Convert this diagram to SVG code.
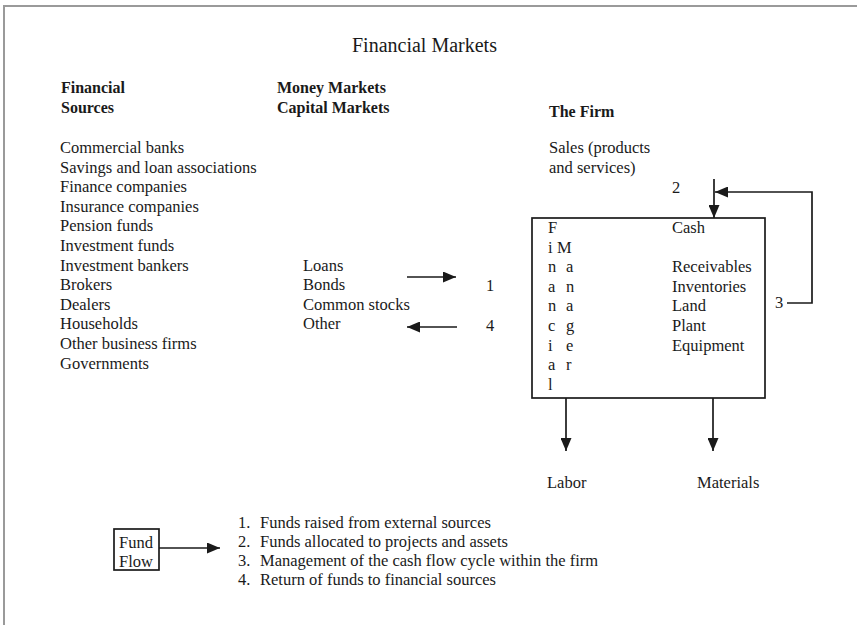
<svg xmlns="http://www.w3.org/2000/svg" width="859" height="625" viewBox="0 0 859 625">
<defs>
<style>
text{font-family:"Liberation Serif","Times New Roman",serif;font-size:16.5px;fill:#1a1a1a}
.b{font-weight:bold;font-size:16px}
.t{font-size:20px}
.ln{stroke:#1a1a1a;stroke-width:1.7;fill:none}
.frame{stroke:#9a9a9a;stroke-width:2;fill:none}
</style>
<marker id="ah" markerWidth="13" markerHeight="11" refX="13" refY="5.5" orient="auto" markerUnits="userSpaceOnUse">
<path d="M0,0 L13,5.5 L0,11 Z" fill="#1a1a1a"/>
</marker>
</defs>
<rect width="859" height="625" fill="#ffffff"/>
<path class="frame" d="M4,625 V6 H857"/>
<text class="t" x="352" y="52">Financial Markets</text>

<g id="sources">
<text class="b" x="61" y="93">Financial</text>
<text class="b" x="61" y="113">Sources</text>
<text x="60" y="153">Commercial banks</text>
<text x="60" y="172.6">Savings and loan associations</text>
<text x="60" y="192.2">Finance companies</text>
<text x="60" y="211.8">Insurance companies</text>
<text x="60" y="231.4">Pension funds</text>
<text x="60" y="251">Investment funds</text>
<text x="60" y="270.6">Investment bankers</text>
<text x="60" y="290.2">Brokers</text>
<text x="60" y="309.8">Dealers</text>
<text x="60" y="329.4">Households</text>
<text x="60" y="349">Other business firms</text>
<text x="60" y="368.6">Governments</text>
</g>

<g id="markets">
<text class="b" x="277" y="93">Money Markets</text>
<text class="b" x="277" y="113">Capital Markets</text>
<text x="303" y="270.6">Loans</text>
<text x="303" y="290.2">Bonds</text>
<text x="303" y="309.8">Common stocks</text>
<text x="303" y="329.4">Other</text>
</g>

<g id="firm-header">
<text class="b" x="549" y="117">The Firm</text>
<text x="549" y="153">Sales (products</text>
<text x="549" y="172.6">and  services)</text>
</g>

<g id="firm">
<rect class="ln" x="532" y="218" width="233" height="180"/>
<text x="548" y="233">F</text>
<text x="548" y="252.6">i</text>
<text x="548" y="272.2">n</text>
<text x="548" y="291.8">a</text>
<text x="548" y="311.4">n</text>
<text x="548" y="331">c</text>
<text x="548" y="350.6">i</text>
<text x="548" y="370.2">a</text>
<text x="548" y="389.8">l</text>
<text x="557" y="252.6">M</text>
<text x="566" y="272.2">a</text>
<text x="566" y="291.8">n</text>
<text x="566" y="311.4">a</text>
<text x="566" y="331">g</text>
<text x="566" y="350.6">e</text>
<text x="566" y="370.2">r</text>
<text x="672" y="233">Cash</text>
<text x="672" y="272.2">Receivables</text>
<text x="672" y="291.8">Inventories</text>
<text x="672" y="311.4">Land</text>
<text x="672" y="331">Plant</text>
<text x="672" y="350.6">Equipment</text>
</g>

<g id="outputs">
<text x="547" y="488">Labor</text>
<text x="697" y="488">Materials</text>
</g>

<g id="legend">
<rect class="ln" x="114" y="529" width="45" height="41"/>
<text x="119" y="548">Fund</text>
<text x="119" y="567">Flow</text>
<text x="238" y="528">1.<tspan x="260">Funds raised from external sources</tspan></text>
<text x="238" y="547">2.<tspan x="260">Funds allocated to projects and assets</tspan></text>
<text x="238" y="566">3.<tspan x="260">Management of the cash flow cycle within the firm</tspan></text>
<text x="238" y="585">4.<tspan x="260">Return of funds to financial sources</tspan></text>
</g>

<g id="labels">
<text x="486" y="291">1</text>
<text x="486" y="331">4</text>
<text x="672" y="193">2</text>
<text x="775" y="308">3</text>
</g>

<g id="connectors">
<line class="ln" x1="407" y1="277" x2="456" y2="277" marker-end="url(#ah)"/>
<line class="ln" x1="457" y1="327" x2="407" y2="327" marker-end="url(#ah)"/>
<line class="ln" x1="714" y1="179" x2="714" y2="218" marker-end="url(#ah)"/>
<polyline class="ln" points="787,303 812,303 812,192 715,192" marker-end="url(#ah)"/>
<line class="ln" x1="566" y1="398" x2="566" y2="451" marker-end="url(#ah)"/>
<line class="ln" x1="713" y1="398" x2="713" y2="451" marker-end="url(#ah)"/>
<line class="ln" x1="159" y1="548" x2="220" y2="548" marker-end="url(#ah)"/>
</g>
</svg>
